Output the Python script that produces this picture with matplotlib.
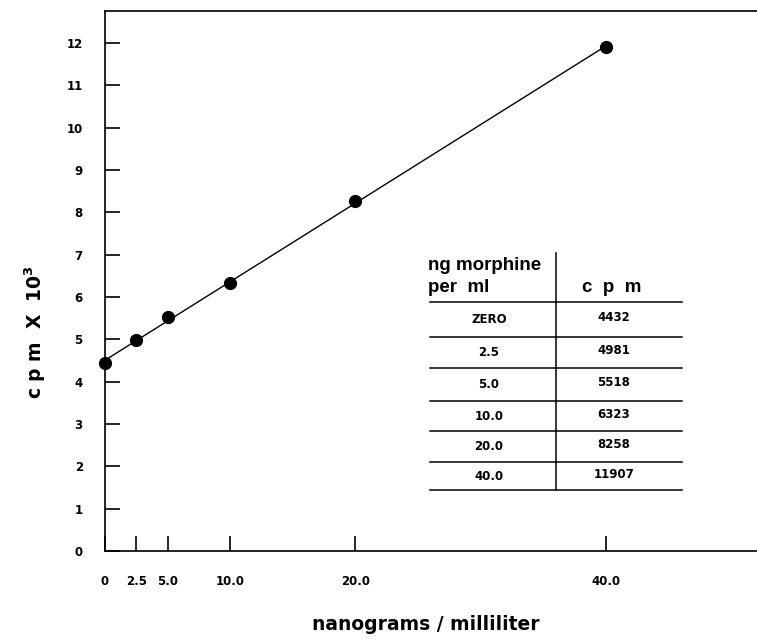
import numpy as np
import matplotlib
matplotlib.use("Agg")
import matplotlib.pyplot as plt

plt.rcParams['font.family'] = ['Liberation Sans', 'DejaVu Sans']

# standard curve data
conc = [0, 2.5, 5.0, 10.0, 20.0, 40.0]
cpm = [4432, 4981, 5518, 6323, 8258, 11907]
conc_labels = ['ZERO', '2.5', '5.0', '10.0', '20.0', '40.0']
xtick_labels = ['0', '2.5', '5.0', '10.0', '20.0', '40.0']
yticks = list(range(0, 13))
ytick_labels = ['0', '1', '2', '3', '4', '5', '6', '7', '8', '9', '10', '11', '12']

W, H = 757, 640
fig = plt.figure(figsize=(W / 100, H / 100), dpi=100)
ax = fig.add_axes([105 / W, 1 - 551 / H, 1 - 105 / W, (551 - 11) / H])

y = np.array(cpm) / 1000.0
# regression line through the points
k, b = np.polyfit(conc, y, 1)
xs = np.array([conc[0], conc[-1]])
ax.plot(xs, k * xs + b, color='black', lw=1.0, zorder=2)
ax.plot(conc, y, 'o', color='black', ms=8.5, zorder=3, clip_on=False)

ax.set_xlim(0, (W - 105) / 12.52)
ax.set_ylim(0, (551 - 11) / 42.33)
ax.set_xticks(conc)
ax.set_xticklabels(xtick_labels, fontsize=8.5, fontweight='bold', family='DejaVu Sans')
ax.set_yticks(yticks)
ax.set_yticklabels(ytick_labels, fontsize=8.5, fontweight='bold', family='DejaVu Sans')
ax.tick_params(axis='x', direction='in', length=11, width=1.2, pad=17)
ax.tick_params(axis='y', direction='in', length=11, width=1.2, pad=16)
ax.spines['right'].set_visible(False)
for s in ['left', 'top', 'bottom']:
    ax.spines[s].set_linewidth(1.2)

fig.text(426 / W, 1 - 625 / H, 'nanograms / milliliter', ha='center', va='center',
         fontsize=13.5, fontweight='bold', family='DejaVu Sans')
fig.text(35 / W, 1 - 332 / H, 'c p m  X  10$^{\\mathbf{3}}$', ha='center', va='center',
         rotation=90, fontsize=13.5, fontweight='bold', family='DejaVu Sans')


# inset table drawn in figure pixels
def px(x, yy):
    return x / W, 1 - yy / H


tf = fig.transFigure
fig.text(*px(428, 266), 'ng morphine', ha='left', va='center', fontsize=13.5, fontweight='bold')
fig.text(*px(428, 288), 'per  ml', ha='left', va='center', fontsize=13.5, fontweight='bold')
fig.text(*px(612, 288), 'c  p  m', ha='center', va='center', fontsize=13.5, fontweight='bold')

row_lines = [302, 337, 368, 401, 431, 462, 490]
for yy in row_lines:
    x0, y0 = px(430, yy)
    x1, _ = px(682, yy)
    fig.add_artist(plt.Line2D([x0, x1], [y0, y0], transform=tf, color='black', lw=1.1))
vx, vy0 = px(556, 253)
_, vy1 = px(556, 490)
fig.add_artist(plt.Line2D([vx, vx], [vy0, vy1], transform=tf, color='black', lw=1.1))

for i, (lab, val) in enumerate(zip(conc_labels, cpm)):
    ym = (row_lines[i] + row_lines[i + 1]) / 2
    fig.text(*px(489, ym), lab, ha='center', va='center', fontsize=8.5, fontweight='bold',
             family='DejaVu Sans')
    fig.text(*px(614, ym - 2), str(val), ha='center', va='center', fontsize=8.5, fontweight='bold',
             family='DejaVu Sans')

fig.savefig('out.png', dpi=100)
